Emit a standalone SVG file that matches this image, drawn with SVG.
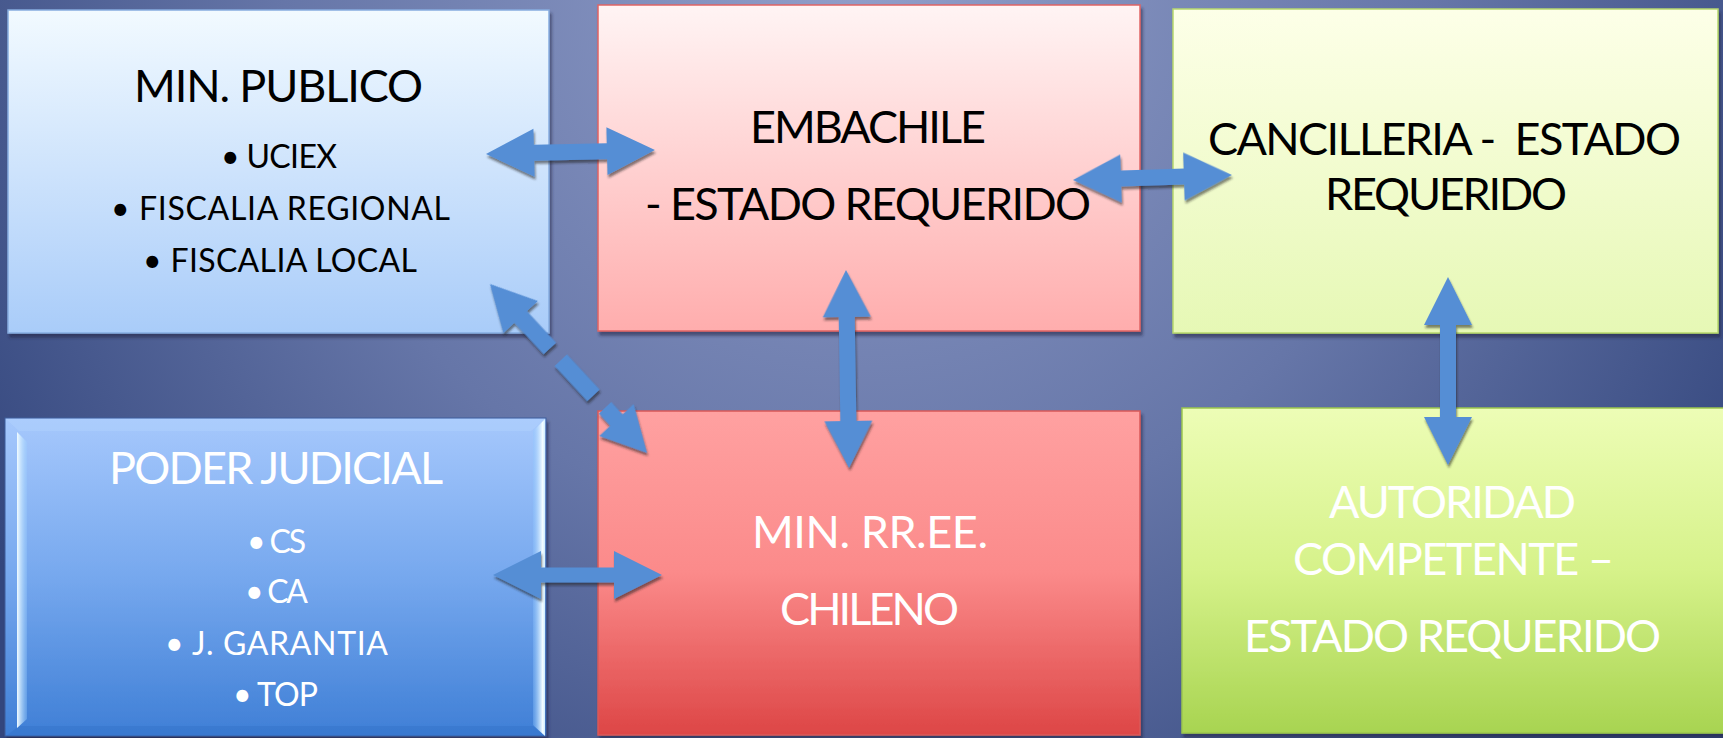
<svg xmlns="http://www.w3.org/2000/svg" width="1723" height="738" viewBox="0 0 1723 738">
<defs>
<radialGradient id="bg" gradientUnits="userSpaceOnUse" cx="860" cy="-40" r="1050">
<stop offset="0" stop-color="#929fca"/>
<stop offset="0.55" stop-color="#6676a8"/>
<stop offset="1" stop-color="#33467d"/>
</radialGradient>
<linearGradient id="gMP" x1="0" y1="0" x2="0" y2="1"><stop offset="0" stop-color="#f2faff"/><stop offset="1" stop-color="#a9ccf9"/></linearGradient>
<linearGradient id="gEM" x1="0" y1="0" x2="0" y2="1"><stop offset="0" stop-color="#fff4f4"/><stop offset="1" stop-color="#ffadad"/></linearGradient>
<linearGradient id="gCA" x1="0" y1="0" x2="0" y2="1"><stop offset="0" stop-color="#fdffe8"/><stop offset="1" stop-color="#e6f8b5"/></linearGradient>
<linearGradient id="gPJ" x1="0" y1="0" x2="0" y2="1"><stop offset="0" stop-color="#a6c8fc"/><stop offset="0.5" stop-color="#76a8ee"/><stop offset="1" stop-color="#3f7fd6"/></linearGradient>
<linearGradient id="gRR" x1="0" y1="0" x2="0" y2="1"><stop offset="0" stop-color="#ffa1a1"/><stop offset="0.5" stop-color="#fb8a8a"/><stop offset="1" stop-color="#dd4646"/></linearGradient>
<linearGradient id="gAU" x1="0" y1="0" x2="0" y2="1"><stop offset="0" stop-color="#edfdb6"/><stop offset="0.5" stop-color="#d6f28a"/><stop offset="1" stop-color="#a8d451"/></linearGradient>
<linearGradient id="bvL" x1="0" y1="0" x2="1" y2="0"><stop offset="0" stop-color="#f2fcff"/><stop offset="1" stop-color="#9ed2ff" stop-opacity="0.3"/></linearGradient>
<linearGradient id="bvR" x1="0" y1="0" x2="1" y2="0"><stop offset="0" stop-color="#8ec6ff" stop-opacity="0.3"/><stop offset="0.8" stop-color="#f4fdff"/><stop offset="1" stop-color="#cfeeff"/></linearGradient>
<filter id="boxsh" x="-5%" y="-5%" width="110%" height="115%">
<feDropShadow dx="2" dy="4" stdDeviation="1.5" flood-color="#1c2440" flood-opacity="0.55"/>
</filter>
<filter id="arrsh" x="-10%" y="-10%" width="120%" height="120%">
<feDropShadow dx="1" dy="3" stdDeviation="1" flood-color="#1a1a1a" flood-opacity="0.55"/>
</filter>
<style>
.t{font-family:Lato,"Open Sans","Liberation Sans",sans-serif;font-size:45px;}
.b{font-family:Lato,"Open Sans","Liberation Sans",sans-serif;font-size:32px;}
.k{fill:#000;}
.w{fill:#fff;}
.arr{fill:#558ed5;}
</style>
</defs>
<rect x="0" y="0" width="1723" height="738" fill="url(#bg)"/>

<g id="min-publico">
<rect x="8" y="10" width="541" height="323" fill="url(#gMP)" stroke="#86ace0" stroke-width="1.5" filter="url(#boxsh)"/>
<text class="t k" x="134" y="102" textLength="289">MIN. PUBLICO</text>
<text class="b k" x="221" y="168" textLength="116">• UCIEX</text>
<text class="b k" x="111" y="220" textLength="339">• FISCALIA REGIONAL</text>
<text class="b k" x="143" y="272" textLength="274">• FISCALIA LOCAL</text>
</g>

<g id="embachile">
<rect x="598" y="5" width="542" height="326" fill="url(#gEM)" stroke="#e06464" stroke-width="1.5" filter="url(#boxsh)"/>
<text class="t k" x="750" y="143" textLength="236">EMBACHILE</text>
<text class="t k" x="645" y="220" textLength="446">- ESTADO REQUERIDO</text>
</g>

<g id="cancilleria">
<rect x="1173" y="9" width="545" height="324" fill="url(#gCA)" stroke="#b6d76c" stroke-width="1.5" filter="url(#boxsh)"/>
<text class="t k" x="1208" y="155" textLength="473" xml:space="preserve">CANCILLERIA -  ESTADO</text>
<text class="t k" x="1325" y="210" textLength="242">REQUERIDO</text>
</g>

<g id="poder-judicial">
<rect x="5" y="418" width="541" height="318" fill="url(#gPJ)" stroke="#3c5c9c" stroke-width="1" filter="url(#boxsh)"/>
<polygon points="6,419 545,419 531,431 19,431" fill="#b8d6ff" opacity="0.35"/>
<polygon points="6,736 545,736 533,726 19,726" fill="#2f6cc4" opacity="0.35"/>
<polygon points="17,432 27,442 27,719 17,728" fill="url(#bvL)"/>
<polygon points="533,431 545,419 545,736 533,725" fill="url(#bvR)"/>
<text class="t w" x="109" y="484" textLength="334">PODER JUDICIAL</text>
<text class="b w" x="247" y="553" textLength="59">• CS</text>
<text class="b w" x="245" y="603" textLength="63">• CA</text>
<text class="b w" x="165" y="655" textLength="223">• J. GARANTIA</text>
<text class="b w" x="233" y="706" textLength="85">• TOP</text>
</g>

<g id="min-rree">
<rect x="598" y="411" width="542" height="324" fill="url(#gRR)" stroke="#d85a5a" stroke-width="1.5" filter="url(#boxsh)"/>
<text class="t w" x="752" y="548" textLength="236">MIN. RR.EE.</text>
<text class="t w" x="780" y="625" textLength="179">CHILENO</text>
</g>

<g id="autoridad">
<rect x="1182" y="408" width="546" height="325" fill="url(#gAU)" stroke="#9cc64e" stroke-width="1.5" filter="url(#boxsh)"/>
<text class="t w" x="1329" y="518" textLength="247">AUTORIDAD</text>
<text class="t w" x="1293" y="575" textLength="321">COMPETENTE –</text>
<text class="t w" x="1244" y="652" textLength="417">ESTADO REQUERIDO</text>
</g>

<g id="connectors" filter="url(#arrsh)">
<path class="arr" transform="translate(486,154) rotate(-1.36)" d="M0,0 L48,-24 L48,-8 L121,-8 L121,-24 L169,0 L121,24 L121,8 L48,8 L48,24 Z"/>
<path class="arr" transform="translate(1073,180) rotate(-1.8)" d="M0,0 L48,-24 L48,-8 L111,-8 L111,-24 L159,0 L111,24 L111,8 L48,8 L48,24 Z"/>
<path class="arr" transform="translate(846,270) rotate(89.1)" d="M0,0 L47,-24 L47,-8 L151,-8 L151,-24 L198,0 L151,24 L151,8 L47,8 L47,24 Z"/>
<path class="arr" transform="translate(1448,277) rotate(90)" d="M0,0 L48,-24 L48,-8 L140,-8 L140,-24 L188,0 L140,24 L140,8 L48,8 L48,24 Z"/>
<path class="arr" transform="translate(493,575)" d="M0,0 L48,-24 L48,-7.5 L121,-7.5 L121,-24 L169,0 L121,24 L121,7.5 L48,7.5 L48,24 Z"/>
<path class="arr" transform="translate(490,284) rotate(47.1)" d="M0,0 L45,-23.5 L45,-8.5 L88,-8.5 L88,8.5 L45,8.5 L45,23.5 Z M104,-8.5 H152 V8.5 H104 Z M169,-8.5 H185.7 V-23.5 L230.7,0 L185.7,23.5 V8.5 H169 Z"/>
</g>
</svg>
